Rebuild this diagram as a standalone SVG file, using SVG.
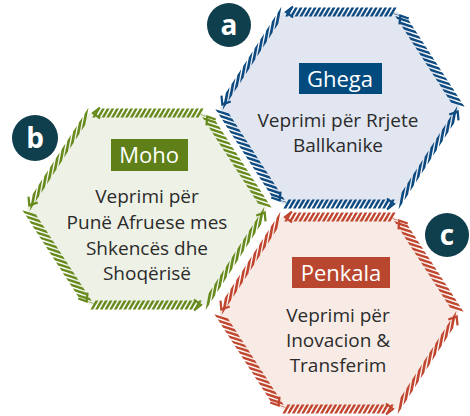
<svg xmlns="http://www.w3.org/2000/svg" width="470" height="416" viewBox="0 0 470 416">
<style>
  .body{font-family:"Open Sans","Noto Sans","Liberation Sans",sans-serif;font-size:19px;fill:#2b2b2b;text-anchor:middle}
  .title{font-family:"Open Sans","Noto Sans","Liberation Sans",sans-serif;font-size:22px;fill:#ffffff;text-anchor:middle}
  .badge{fill:#0f3e4c}
  .badgetxt{font-family:"Open Sans","Liberation Sans",sans-serif;font-weight:bold;font-size:28px;fill:#ffffff;text-anchor:middle}
  .hs{fill:none;stroke:currentColor}
  .d{stroke-width:9;stroke-dasharray:3.8 2.4}
  .h{stroke-width:9;stroke-dasharray:2.8 1.9}
  .s{stroke-width:6.5;stroke-dasharray:7 3.6}
  .arr{fill:none;stroke:currentColor;stroke-width:2.2;stroke-linecap:butt;stroke-linejoin:miter}
</style>
<defs>
  <polygon id="hexshape" points="-120,0 -58,-96 58,-96 120,0 58,96 -58,96"/>
  <g id="edges">
    <g transform="translate(120,0) rotate(-122.86)">
      <line class="hs d" x1="4" y1="0" x2="110" y2="0" transform="skewX(-51)"/>
      <polyline class="arr" points="103,-5.5 110,0 103,5.5"/>
    </g>
    <g transform="translate(58,-96) rotate(180)">
      <line class="hs h" x1="4" y1="0" x2="112" y2="0" transform="skewX(-30)"/>
      <polyline class="arr" points="105,-5.5 112,0 105,5.5"/>
    </g>
    <g transform="translate(-58,-96) rotate(122.86)">
      <line class="hs s" x1="4" y1="0" x2="110" y2="0" transform="skewX(-68)"/>
      <polyline class="arr" points="103,-5.5 110,0 103,5.5"/>
    </g>
    <g transform="translate(-120,0) rotate(57.14)">
      <line class="hs d" x1="4" y1="0" x2="110" y2="0" transform="skewX(-51)"/>
      <polyline class="arr" points="103,-5.5 110,0 103,5.5"/>
    </g>
    <g transform="translate(-58,96)">
      <line class="hs h" x1="4" y1="0" x2="112" y2="0" transform="skewX(-30)"/>
      <polyline class="arr" points="105,-5.5 112,0 105,5.5"/>
    </g>
    <g transform="translate(58,96) rotate(-57.14)">
      <line class="hs s" x1="4" y1="0" x2="110" y2="0" transform="skewX(-68)"/>
      <polyline class="arr" points="103,-5.5 110,0 103,5.5"/>
    </g>
  </g>
</defs>

<g id="node-moho" transform="translate(147,209)">
  <use href="#hexshape" fill="#eef1e6"/>
  <use href="#edges" color="#678a1c"/>
  <rect x="-36" y="-70" width="77" height="32" fill="#5f7f19"/>
  <text class="title" x="2" y="-46">Moho</text>
  <text class="body" x="0" y="-6">Veprimi për</text>
  <text class="body" x="0" y="20">Punë Afruese mes</text>
  <text class="body" x="0" y="46">Shkencës dhe</text>
  <text class="body" x="0" y="71">Shoqërisë</text>
</g>

<g id="node-ghega" transform="translate(340,108)">
  <use href="#hexshape" fill="#e2e6f1"/>
  <use href="#edges" color="#0c4a80"/>
  <rect x="-41" y="-45" width="83" height="31" fill="#004a7e"/>
  <text class="title" x="0" y="-21">Ghega</text>
  <text class="body" x="-2" y="19">Veprimi për Rrjete</text>
  <text class="body" x="-2" y="44">Ballkanike</text>
</g>

<g id="node-penkala" transform="translate(339,313)">
  <use href="#hexshape" fill="#f8ebe6"/>
  <use href="#edges" color="#c0462f"/>
  <rect x="-47" y="-56" width="98" height="31" fill="#b9462e"/>
  <text class="title" x="2" y="-32">Penkala</text>
  <text class="body" x="-1" y="9">Veprimi për</text>
  <text class="body" x="-1" y="34">Inovacion &amp;</text>
  <text class="body" x="-1" y="59">Transferim</text>
</g>

<g id="badge-a">
  <circle class="badge" cx="229" cy="25" r="22"/>
  <text class="badgetxt" x="229" y="35">a</text>
</g>
<g id="badge-b">
  <circle class="badge" cx="35" cy="138" r="23"/>
  <text class="badgetxt" x="35" y="148">b</text>
</g>
<g id="badge-c">
  <circle class="badge" cx="447" cy="235" r="22"/>
  <text class="badgetxt" x="447" y="245">c</text>
</g>
<g id="connectors"/>
</svg>
